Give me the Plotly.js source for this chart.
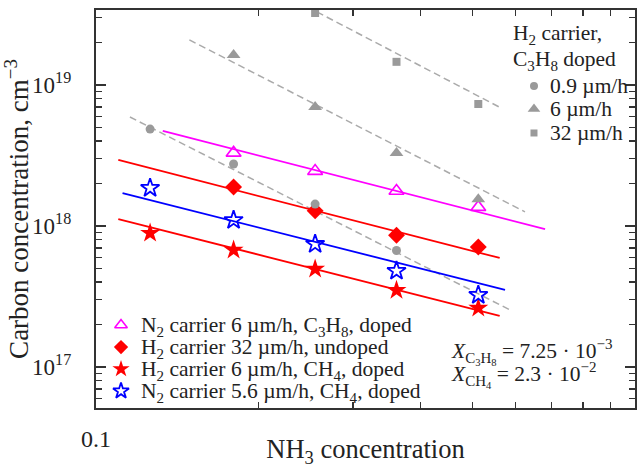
<!DOCTYPE html>
<html><head><meta charset="utf-8">
<script src="https://cdn.plot.ly/plotly-3.0.1.min.js"></script>
<style>html,body{margin:0;padding:0;background:#fff}#chart{width:637px;height:468px}</style>
</head><body><div id="chart"></div>
<script>
// NH3 concentration (x) values and carbon concentration (y)
const xC = [0.126, 0.18, 0.255, 0.361];
const yC = [4.87e18, 2.75e18, 1.43e18, 6.7e17];            // H2 carrier 0.9 um/h
const xT = [0.18, 0.255, 0.361, 0.512];
const yT = [1.63e19, 6.98e18, 3.3e18, 1.55e18];            // H2 carrier 6 um/h
const xS = [0.255, 0.361, 0.512];
const yS = [3.24e19, 1.46e19, 7.33e18];                    // H2 carrier 32 um/h
const xN2C3 = [0.18, 0.255, 0.361, 0.512];
const yN2C3 = [3.3e18, 2.45e18, 1.77e18, 1.36e18];         // N2 carrier 6 um/h, C3H8
const xH2U = [0.18, 0.255, 0.361, 0.512];
const yH2U = [1.89e18, 1.28e18, 8.6e17, 7.1e17];           // H2 carrier 32 um/h, undoped
const xH2CH4 = [0.126, 0.18, 0.255, 0.361, 0.512];
const yH2CH4 = [8.9e17, 6.76e17, 4.95e17, 3.5e17, 2.62e17]; // H2 carrier 6 um/h, CH4
const xN2CH4 = [0.126, 0.18, 0.255, 0.361, 0.512];
const yN2CH4 = [1.86e18, 1.1e18, 7.45e17, 4.8e17, 3.24e17]; // N2 carrier 5.6 um/h, CH4

// fit lines (endpoints)
const fitCx = [0.1156, 0.591], fitCy = [5.93e18, 2.5e17];
const fitTx = [0.149, 0.625], fitTy = [2.09e19, 1.26e18];
const fitSx = [0.257, 0.56], fitSy = [3.3e19, 6.98e18];
const fitN2C3x = [0.133, 0.681], fitN2C3y = [4.72e18, 9.5e17];
const fitH2Ux = [0.110, 0.561], fitH2Uy = [2.94e18, 5.93e17];
const fitH2CH4x = [0.110, 0.561], fitH2CH4y = [1.12e18, 2.3e17];
const fitN2CH4x = [0.112, 0.574], fitN2CH4y = [1.71e18, 3.52e17];

const xTickVals = [0.1, 1], xTickText = ['0.1', '1'];
const yTickVals = [1e17, 1e18, 1e19];
const yTickText = ['10<sup>17</sup>', '10<sup>18</sup>', '10<sup>19</sup>'];

const legendLabels = [
  'N<sub>2</sub> carrier 6 µm/h, C<sub>3</sub>H<sub>8</sub>, doped',
  'H<sub>2</sub> carrier 32 µm/h, undoped',
  'H<sub>2</sub> carrier 6 µm/h, CH<sub>4</sub>, doped',
  'N<sub>2</sub> carrier 5.6 µm/h, CH<sub>4</sub>, doped'
];
const greyLegendTitle = ['H<sub>2</sub> carrier,', 'C<sub>3</sub>H<sub>8</sub> doped'];
const greyLabels = ['0.9 µm/h', '6 µm/h', '32 µm/h'];
const noteLines = [
  '<i>X</i><sub>C<sub>3</sub>H<sub>8</sub></sub> = 7.25 · 10<sup>−3</sup>',
  '<i>X</i><sub>CH<sub>4</sub></sub> = 2.3 · 10<sup>−2</sup>'
];

const F = "'Liberation Serif', 'Times New Roman', serif";
const TXT = '#222';
const GREY = '#9a9a9a';
const DASH = '#aaaaaa';

// marker styles
const mN2C3 = {symbol: 'triangle-up-open', size: 13, color: '#ff00ff', line: {width: 1.6, color: '#ff00ff'}};
const mH2U = {symbol: 'diamond', size: 13, color: '#ff0000'};
const mH2CH4 = {symbol: 'star', size: 15, color: '#ff0000'};
const mN2CH4 = {symbol: 'star-open', size: 14, color: '#0000ff', line: {width: 1.8, color: '#0000ff'}};
const mC = {symbol: 'circle', size: 9, color: GREY};
const mT = {symbol: 'triangle-up', size: 12, color: GREY};
const mS = {symbol: 'square', size: 8, color: GREY};

function dashLine(x, y) {
  return {x, y, mode: 'lines', type: 'scatter', showlegend: false, hoverinfo: 'skip',
    line: {color: DASH, width: 1.5, dash: '7px,4px'}};
}
function solidLine(x, y, c) {
  return {x, y, mode: 'lines', type: 'scatter', showlegend: false, hoverinfo: 'skip',
    line: {color: c, width: 1.8}};
}
function pts(x, y, m) {
  return {x, y, mode: 'markers', type: 'scatter', showlegend: false, marker: m};
}

// legend layout (in plot-area fractions)
const L1 = {keyX: 0.0464, textX: 0.0798, rows: [0.2085, 0.153, 0.098, 0.0427]};
const L2 = {keyX: 0.8126, textX: 0.8386, titleX: 0.770, titleRows: [0.942, 0.877], rows: [0.809, 0.751, 0.691]};

function key(row, xk, m) {
  const sm = Object.assign({}, m, {size: m.size - 2});
  return {x: [xk], y: [row], xaxis: 'x2', yaxis: 'y2', mode: 'markers', type: 'scatter',
    showlegend: false, hoverinfo: 'skip', marker: sm};
}

const legendMarkers = [mN2C3, mH2U, mH2CH4, mN2CH4];
const greyMarkers = [mC, mT, mS];

const traces = [
  dashLine(fitCx, fitCy), dashLine(fitTx, fitTy), dashLine(fitSx, fitSy),
  solidLine(fitN2C3x, fitN2C3y, '#ff00ff'),
  solidLine(fitH2Ux, fitH2Uy, '#ff0000'),
  solidLine(fitH2CH4x, fitH2CH4y, '#ff0000'),
  solidLine(fitN2CH4x, fitN2CH4y, '#0000ff'),
  pts(xN2C3, yN2C3, mN2C3), pts(xH2U, yH2U, mH2U),
  pts(xH2CH4, yH2CH4, mH2CH4), pts(xN2CH4, yN2CH4, mN2CH4),
  pts(xC, yC, mC), pts(xT, yT, mT), pts(xS, yS, mS)
];
legendMarkers.forEach((m, i) => traces.push(key(L1.rows[i], L1.keyX, m)));
greyMarkers.forEach((m, i) => traces.push(key(L2.rows[i], L2.keyX, Object.assign({}, m, {size: m.size + 1}))));

const annotations = [];
function note(x, y, text) {
  annotations.push({xref: 'paper', yref: 'paper', x, y, xanchor: 'left', yanchor: 'middle', showarrow: false,
    text, font: {family: F, size: 21.5, color: TXT}});
}
legendLabels.forEach((t, i) => note(L1.textX, L1.rows[i] - 0.004, t));
greyLegendTitle.forEach((t, i) => note(L2.titleX, L2.titleRows[i] - 0.004, t));
greyLabels.forEach((t, i) => note(L2.textX, L2.rows[i], t));
note(0.655, 0.141, noteLines[0]);
note(0.655, 0.084, noteLines[1]);

const yMinor = [];
for (let e = 16; e <= 19; e++) for (let m = 2; m <= 9; m++) yMinor.push(m * Math.pow(10, e));
const xMinor = [0.2, 0.3, 0.4, 0.5, 0.6, 0.7, 0.8, 0.9];

const layout = {
  width: 637, height: 468,
  margin: {l: 96, r: 2, t: 10, b: 60},
  paper_bgcolor: '#fff', plot_bgcolor: '#fff',
  font: {family: F, color: TXT, size: 21},
  showlegend: false,
  xaxis: {
    type: 'log', range: [-1, 0], tickmode: 'array', tickvals: xTickVals, ticktext: xTickText,
    ticks: 'inside', ticklen: 9, tickwidth: 1.5, tickcolor: '#333',
    showline: true, linecolor: '#333', linewidth: 2.2, mirror: 'ticks',
    showgrid: false, zeroline: false,
    tickfont: {family: F, size: 24, color: TXT},
    ticklabelstandoff: 8,
    minor: {tickmode: 'array', tickvals: xMinor, ticks: 'inside', ticklen: 6, tickwidth: 1.5, tickcolor: '#333', showgrid: false},
    title: {text: 'NH<sub>3</sub> concentration', font: {family: F, size: 26.5, color: TXT}, standoff: 10}
  },
  yaxis: {
    type: 'log', range: [16.709, 19.532], tickmode: 'array', tickvals: yTickVals, ticktext: yTickText,
    ticks: 'inside', ticklen: 10, tickwidth: 1.5, tickcolor: '#333',
    showline: true, linecolor: '#333', linewidth: 2.2, mirror: 'ticks',
    showgrid: false, zeroline: false,
    tickfont: {family: F, size: 23, color: TXT},
    ticklabelstandoff: 18,
    minor: {tickmode: 'array', tickvals: yMinor, ticks: 'inside', ticklen: 6, tickwidth: 1.5, tickcolor: '#333', showgrid: false},
    title: {text: 'Carbon concentration, cm<sup>−3</sup>', font: {family: F, size: 27, color: TXT}, standoff: 6}
  },
  xaxis2: {overlaying: 'x', anchor: 'y2', range: [0, 1], visible: false, fixedrange: true},
  yaxis2: {overlaying: 'y', anchor: 'x2', range: [0, 1], visible: false, fixedrange: true},
  annotations
};

Plotly.newPlot('chart', traces, layout, {staticPlot: true, displayModeBar: false});
</script></body></html>
